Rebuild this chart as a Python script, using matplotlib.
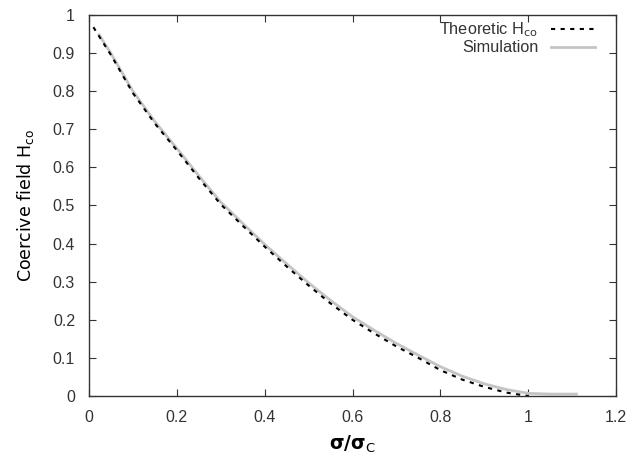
import matplotlib
matplotlib.use("Agg")
import matplotlib.pyplot as plt
from matplotlib.ticker import FuncFormatter, MultipleLocator

plt.rcParams.update({
    "font.family": "DejaVu Sans",
    "font.size": 10,
    "mathtext.fontset": "dejavusans",
})

# values
sigma_theory = [0.01, 0.05, 0.10, 0.15, 0.20, 0.25, 0.30, 0.35, 0.40, 0.45,
                0.50, 0.55, 0.60, 0.65, 0.70, 0.75, 0.80, 0.85, 0.90, 0.95, 1.00]
hco_theory = [0.968, 0.895, 0.795, 0.715, 0.645, 0.572, 0.503, 0.447, 0.392, 0.340,
              0.290, 0.243, 0.200, 0.164, 0.130, 0.100, 0.068, 0.043, 0.024, 0.009, 0.000]

sigma_sim = [0.023, 0.05, 0.10, 0.15, 0.20, 0.25, 0.30, 0.35, 0.40, 0.45,
             0.50, 0.55, 0.60, 0.65, 0.70, 0.75, 0.80, 0.85, 0.90, 0.95, 1.00,
             1.05, 1.11]
hco_sim = [0.948, 0.899, 0.800, 0.720, 0.650, 0.578, 0.509, 0.453, 0.398, 0.347,
           0.297, 0.251, 0.208, 0.172, 0.138, 0.107, 0.077, 0.052, 0.032, 0.017, 0.007,
           0.005, 0.005]

fig = plt.figure(figsize=(6.29, 4.54), dpi=100)
ax = fig.add_axes([89 / 629, 1 - 396 / 454, (616 - 89) / 629, (396 - 15) / 454])

ax.plot(sigma_sim, hco_sim, color="#c4c4c4", lw=2, label="Simulation", zorder=2)
ax.plot(sigma_theory, hco_theory, color="black", lw=1.5, ls=(0, (2.0, 2.6)),
        label=r"Theoretic H$_{\rm co}$", zorder=3)

ax.set_xlim(0, 1.2)
ax.set_ylim(0, 1)
ax.xaxis.set_major_locator(MultipleLocator(0.2))
ax.yaxis.set_major_locator(MultipleLocator(0.1))
fmt = FuncFormatter(lambda v, pos: f"{v:g}")
ax.xaxis.set_major_formatter(fmt)
ax.yaxis.set_major_formatter(fmt)
ax.tick_params(direction="in", length=5, width=0.8, top=True, right=True,
               labelsize=11.5, labelcolor="#333333", color="#333333", pad=10)
for lab in ax.get_xticklabels() + ax.get_yticklabels():
    lab.set_family("Liberation Sans")
for s in ax.spines.values():
    s.set_linewidth(1.0)
    s.set_color("#333333")

ax.set_ylabel(r"Coercive field H$_{\rm co}$", fontsize=12.5, labelpad=12)
ax.set_xlabel(r"σ/σ$_{\rm C}$", fontsize=13.5, labelpad=6, fontweight="bold")

handles, labels = ax.get_legend_handles_labels()
leg = ax.legend(handles[::-1], labels[::-1], loc="upper right", frameon=False,
                markerfirst=False, fontsize=11.7, handlelength=2.7,
                borderaxespad=0, borderpad=0, labelspacing=0.05,
                handletextpad=0.8, bbox_to_anchor=(0.960, 0.985))
for t in leg.get_texts():
    t.set_family("Liberation Sans")
    t.set_color("#333333")

fig.savefig("out.png", dpi=100)
